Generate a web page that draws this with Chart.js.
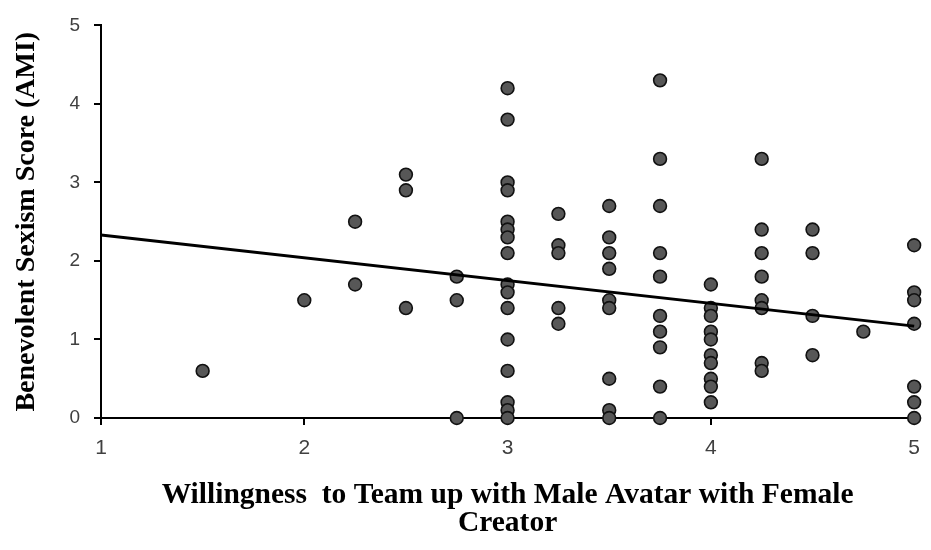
<!DOCTYPE html>
<html>
<head>
<meta charset="utf-8">
<script src="https://cdn.jsdelivr.net/npm/chart.js@4/dist/chart.umd.min.js"></script>
<style>
  html, body { margin: 0; padding: 0; background: #fff; }
  #wrap { width: 931px; height: 550px; }
</style>
</head>
<body>
<div id="wrap"><canvas id="c" width="931" height="550"></canvas></div>
<script>
// Willingness ratings (x) and benevolent sexism scores (y), one entry per respondent
const willingness = [
  1.5,
  2,
  2.25, 2.25,
  2.5, 2.5, 2.5,
  2.75, 2.75, 2.75,
  3, 3, 3, 3, 3, 3, 3, 3, 3, 3, 3, 3, 3, 3, 3, 3,
  3.25, 3.25, 3.25, 3.25, 3.25,
  3.5, 3.5, 3.5, 3.5, 3.5, 3.5, 3.5, 3.5, 3.5,
  3.75, 3.75, 3.75, 3.75, 3.75, 3.75, 3.75, 3.75, 3.75, 3.75,
  4, 4, 4, 4, 4, 4, 4, 4, 4, 4,
  4.25, 4.25, 4.25, 4.25, 4.25, 4.25, 4.25, 4.25,
  4.5, 4.5, 4.5, 4.5,
  4.75,
  5, 5, 5, 5, 5, 5, 5
];
const sexismScore = [
  0.6,
  1.5,
  2.5, 1.7,
  3.1, 2.9, 1.4,
  1.8, 1.5, 0.0,
  4.2, 3.8, 3.0, 2.9, 2.5, 2.4, 2.3, 2.1, 1.7, 1.6, 1.4, 1.0, 0.6, 0.2, 0.1, 0.0,
  2.6, 2.2, 2.1, 1.4, 1.2,
  2.7, 2.3, 2.1, 1.9, 1.5, 1.4, 0.5, 0.1, 0.0,
  4.3, 3.3, 2.7, 2.1, 1.8, 1.3, 1.1, 0.9, 0.4, 0.0,
  1.7, 1.4, 1.3, 1.1, 1.0, 0.8, 0.7, 0.5, 0.4, 0.2,
  3.3, 2.4, 2.1, 1.8, 1.5, 1.4, 0.7, 0.6,
  2.4, 2.1, 1.3, 0.8,
  1.1,
  2.2, 1.6, 1.5, 1.2, 0.4, 0.2, 0.0
];
// Linear trend line end points
const trendX = [1, 5];
const trendY = [2.33, 1.17];

const xTicks = [1, 2, 3, 4, 5];
const yTicks = [0, 1, 2, 3, 4, 5];

const xTitle = ['Willingness  to Team up with Male Avatar with Female', 'Creator'];
const yTitle = 'Benevolent Sexism Score (AMI)';

const points = willingness.map((x, i) => ({ x: x, y: sexismScore[i] }));
const trend = trendX.map((x, i) => ({ x: x, y: trendY[i] }));

new Chart(document.getElementById('c'), {
  type: 'scatter',
  data: {
    datasets: [
      {
        type: 'line',
        data: trend,
        borderColor: '#000',
        borderWidth: 3,
        pointRadius: 0,
        fill: false,
        order: 0,
        clip: false
      },
      {
        data: points,
        backgroundColor: '#575757',
        borderColor: '#111',
        borderWidth: 1.6,
        pointRadius: 6.4,
        pointHoverRadius: 6.4,
        order: 1,
        clip: false
      }
    ]
  },
  options: {
    responsive: false,
    animation: false,
    events: [],
    layout: { padding: { top: 24, right: 15, left: 0, bottom: 0 } },
    plugins: { legend: { display: false }, tooltip: { enabled: false } },
    scales: {
      x: {
        type: 'linear',
        min: 1, max: 5,
        afterFit: s => { s.height = 132; },
        afterBuildTicks: s => { s.ticks = xTicks.map(v => ({ value: v })); },
        border: { color: '#000', width: 2 },
        grid: { drawOnChartArea: false, drawTicks: true, tickLength: 7, color: '#000', lineWidth: 2 },
        ticks: {
          padding: 11,
          color: '#404040',
          font: { family: "'Liberation Sans Narrow', 'Liberation Sans', Arial, sans-serif", size: 21 }
        },
        title: {
          display: true,
          text: xTitle,
          color: '#000',
          padding: { top: 0, bottom: 12 },
          font: { family: "'Liberation Serif', 'Times New Roman', serif", size: 29.5, weight: 'bold', lineHeight: 0.97 }
        }
      },
      y: {
        type: 'linear',
        min: 0, max: 5,
        afterFit: s => { s.width = 101; },
        afterBuildTicks: s => { s.ticks = yTicks.map(v => ({ value: v })); },
        border: { color: '#000', width: 2 },
        grid: { drawOnChartArea: false, drawTicks: true, tickLength: 7, color: '#000', lineWidth: 2 },
        ticks: {
          padding: 14,
          color: '#404040',
          font: { family: "'Liberation Sans', Arial, sans-serif", size: 19 }
        },
        title: {
          display: true,
          text: yTitle,
          color: '#000',
          padding: { top: 10, bottom: 0 },
          font: { family: "'Liberation Serif', 'Times New Roman', serif", size: 28, weight: 'bold', lineHeight: 1.2 }
        }
      }
    }
  }
});
</script>
</body>
</html>
